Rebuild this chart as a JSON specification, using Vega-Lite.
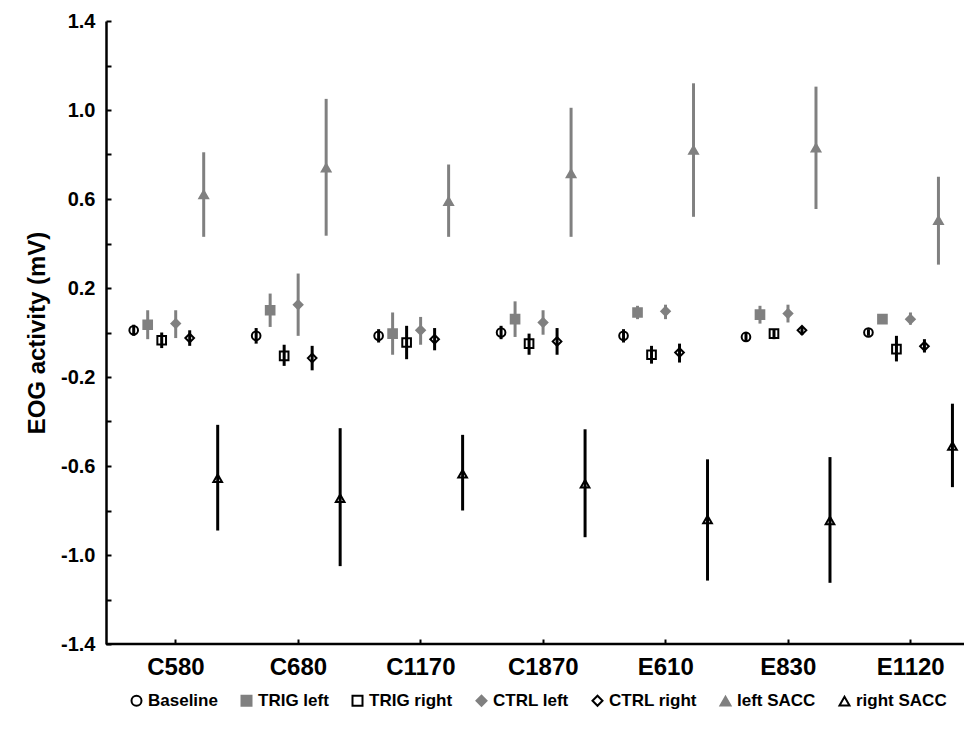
{
  "$schema": "https://vega.github.io/schema/vega-lite/v6.json",
  "width": 858,
  "height": 623,
  "autosize": {"type": "none"},
  "padding": {"left": 106, "top": 21, "right": 2, "bottom": 92},
  "background": "white",
  "config": {
    "font": "Liberation Sans",
    "view": {"stroke": null},
    "axis": {"grid": false, "domainColor": "black", "tickColor": "black", "labelColor": "black", "titleColor": "black", "labelFontWeight": "bold", "titleFontWeight": "bold"}
  },
  "datasets": {
    "eog": [
      {"cat": "C580", "series": "Baseline", "mean": 0.01, "lo": -0.015, "hi": 0.035},
      {"cat": "C580", "series": "TRIG left", "mean": 0.035, "lo": -0.03, "hi": 0.1},
      {"cat": "C580", "series": "TRIG right", "mean": -0.035, "lo": -0.07, "hi": 0.0},
      {"cat": "C580", "series": "CTRL left", "mean": 0.04, "lo": -0.025, "hi": 0.1},
      {"cat": "C580", "series": "CTRL right", "mean": -0.025, "lo": -0.06, "hi": 0.01},
      {"cat": "C580", "series": "left SACC", "mean": 0.62, "lo": 0.43, "hi": 0.81},
      {"cat": "C580", "series": "right SACC", "mean": -0.655, "lo": -0.89, "hi": -0.415},
      {"cat": "C680", "series": "Baseline", "mean": -0.015, "lo": -0.05, "hi": 0.02},
      {"cat": "C680", "series": "TRIG left", "mean": 0.1, "lo": 0.025, "hi": 0.175},
      {"cat": "C680", "series": "TRIG right", "mean": -0.105, "lo": -0.15, "hi": -0.055},
      {"cat": "C680", "series": "CTRL left", "mean": 0.125, "lo": -0.015, "hi": 0.265},
      {"cat": "C680", "series": "CTRL right", "mean": -0.115, "lo": -0.17, "hi": -0.06},
      {"cat": "C680", "series": "left SACC", "mean": 0.74, "lo": 0.435, "hi": 1.05},
      {"cat": "C680", "series": "right SACC", "mean": -0.745, "lo": -1.05, "hi": -0.43},
      {"cat": "C1170", "series": "Baseline", "mean": -0.015, "lo": -0.045, "hi": 0.015},
      {"cat": "C1170", "series": "TRIG left", "mean": -0.005, "lo": -0.1, "hi": 0.09},
      {"cat": "C1170", "series": "TRIG right", "mean": -0.045, "lo": -0.12, "hi": 0.03},
      {"cat": "C1170", "series": "CTRL left", "mean": 0.01, "lo": -0.055, "hi": 0.07},
      {"cat": "C1170", "series": "CTRL right", "mean": -0.03, "lo": -0.08, "hi": 0.02},
      {"cat": "C1170", "series": "left SACC", "mean": 0.59, "lo": 0.43, "hi": 0.755},
      {"cat": "C1170", "series": "right SACC", "mean": -0.635, "lo": -0.8, "hi": -0.46},
      {"cat": "C1870", "series": "Baseline", "mean": 0.0, "lo": -0.03, "hi": 0.03},
      {"cat": "C1870", "series": "TRIG left", "mean": 0.06, "lo": -0.02, "hi": 0.14},
      {"cat": "C1870", "series": "TRIG right", "mean": -0.05, "lo": -0.1, "hi": -0.005},
      {"cat": "C1870", "series": "CTRL left", "mean": 0.045, "lo": -0.01, "hi": 0.1},
      {"cat": "C1870", "series": "CTRL right", "mean": -0.04, "lo": -0.1, "hi": 0.02},
      {"cat": "C1870", "series": "left SACC", "mean": 0.715, "lo": 0.43, "hi": 1.01},
      {"cat": "C1870", "series": "right SACC", "mean": -0.68, "lo": -0.92, "hi": -0.435},
      {"cat": "E610", "series": "Baseline", "mean": -0.015, "lo": -0.045, "hi": 0.015},
      {"cat": "E610", "series": "TRIG left", "mean": 0.09, "lo": 0.06, "hi": 0.12},
      {"cat": "E610", "series": "TRIG right", "mean": -0.1, "lo": -0.14, "hi": -0.06},
      {"cat": "E610", "series": "CTRL left", "mean": 0.095, "lo": 0.06, "hi": 0.125},
      {"cat": "E610", "series": "CTRL right", "mean": -0.09, "lo": -0.135, "hi": -0.05},
      {"cat": "E610", "series": "left SACC", "mean": 0.82, "lo": 0.52, "hi": 1.12},
      {"cat": "E610", "series": "right SACC", "mean": -0.84, "lo": -1.115, "hi": -0.57},
      {"cat": "E830", "series": "Baseline", "mean": -0.02, "lo": -0.04, "hi": 0.0},
      {"cat": "E830", "series": "TRIG left", "mean": 0.08, "lo": 0.04, "hi": 0.12},
      {"cat": "E830", "series": "TRIG right", "mean": -0.005, "lo": -0.03, "hi": 0.015},
      {"cat": "E830", "series": "CTRL left", "mean": 0.085, "lo": 0.045, "hi": 0.125},
      {"cat": "E830", "series": "CTRL right", "mean": 0.01, "lo": -0.01, "hi": 0.025},
      {"cat": "E830", "series": "left SACC", "mean": 0.83, "lo": 0.555, "hi": 1.105},
      {"cat": "E830", "series": "right SACC", "mean": -0.845, "lo": -1.125, "hi": -0.56},
      {"cat": "E1120", "series": "Baseline", "mean": 0.0, "lo": -0.015, "hi": 0.015},
      {"cat": "E1120", "series": "TRIG left", "mean": 0.06, "lo": 0.04, "hi": 0.08},
      {"cat": "E1120", "series": "TRIG right", "mean": -0.075, "lo": -0.13, "hi": -0.015},
      {"cat": "E1120", "series": "CTRL left", "mean": 0.06, "lo": 0.035, "hi": 0.09},
      {"cat": "E1120", "series": "CTRL right", "mean": -0.062, "lo": -0.09, "hi": -0.03},
      {"cat": "E1120", "series": "left SACC", "mean": 0.505, "lo": 0.305, "hi": 0.7},
      {"cat": "E1120", "series": "right SACC", "mean": -0.51, "lo": -0.695, "hi": -0.32}
    ],
    "baseline": [{"value": -1.4}]
  },
  "layer": [
    {
      "data": {"name": "baseline"},
      "mark": {"type": "rule", "stroke": "black", "strokeWidth": 2.5},
      "encoding": {
        "y": {"field": "value", "type": "quantitative", "scale": {"domain": [-1.4, 1.4], "nice": false, "zero": false}}
      }
    },
    {
      "data": {"name": "eog"},
      "mark": {"type": "point", "strokeWidth": 2, "opacity": 1, "size": 75},
      "encoding": {
        "x": {
          "field": "cat", "type": "nominal", "sort": null,
          "scale": {"type": "band", "range": [8.7, 865.9], "paddingInner": 0, "paddingOuter": 0},
          "axis": {"title": null, "domain": false, "tickSize": -5, "tickWidth": 2, "labelPadding": 16, "labelFontSize": 24, "labelAngle": 0}
        },
        "xOffset": {
          "field": "series", "type": "nominal", "sort": null,
          "scale": {"type": "point", "padding": 0, "range": [19, 103], "domain": ["Baseline", "TRIG left", "TRIG right", "CTRL left", "CTRL right", "left SACC", "right SACC"]}
        },
        "y": {
          "field": "mean", "type": "quantitative",
          "scale": {"domain": [-1.4, 1.4], "nice": false, "zero": false},
          "axis": {
            "title": "EOG activity (mV)", "titleFontSize": 24, "titlePadding": 11,
            "values": [-1.4, -1.2, -1.0, -0.8, -0.6, -0.4, -0.2, 0, 0.2, 0.4, 0.6, 0.8, 1.0, 1.2, 1.4],
            "labelExpr": "abs(round(datum.value*10)) % 4 == 2 ? replace(format(datum.value, '.1f'), '\u2212', '-') : ''",
            "labelFontSize": 20, "labelPadding": 16, "tickSize": -5, "tickWidth": 2, "domainWidth": 2.5
          }
        },
        "shape": {
          "field": "series", "type": "nominal", "sort": null,
          "scale": {"domain": ["Baseline", "TRIG left", "TRIG right", "CTRL left", "CTRL right", "left SACC", "right SACC"],
                    "range": ["circle", "square", "square", "diamond", "diamond", "triangle-up", "triangle-up"]},
          "legend": {"title": null}
        },
        "fill": {
          "field": "series", "type": "nominal", "sort": null,
          "scale": {"domain": ["Baseline", "TRIG left", "TRIG right", "CTRL left", "CTRL right", "left SACC", "right SACC"],
                    "range": ["white", "#808080", "white", "#808080", "white", "#808080", "white"]},
          "legend": {"title": null}
        },
        "stroke": {
          "field": "series", "type": "nominal", "sort": null,
          "scale": {"domain": ["Baseline", "TRIG left", "TRIG right", "CTRL left", "CTRL right", "left SACC", "right SACC"],
                    "range": ["black", "#808080", "black", "#808080", "black", "#808080", "black"]},
          "legend": {
            "title": null, "orient": "none", "direction": "horizontal", "legendX": 22, "legendY": 671,
            "labelFontSize": 17, "labelFontWeight": "bold", "labelColor": "black",
            "symbolSize": 100, "symbolStrokeWidth": 2, "columnPadding": 19, "labelOffset": 3
          }
        }
      }
    },
    {
      "data": {"name": "eog"},
      "mark": {"type": "rule", "strokeWidth": 3},
      "encoding": {
        "x": {"field": "cat", "type": "nominal", "sort": null},
        "xOffset": {"field": "series", "type": "nominal", "sort": null,
          "scale": {"type": "point", "padding": 0, "range": [19, 103], "domain": ["Baseline", "TRIG left", "TRIG right", "CTRL left", "CTRL right", "left SACC", "right SACC"]}},
        "y": {"field": "lo", "type": "quantitative"},
        "y2": {"field": "hi"},
        "color": {
          "field": "series", "type": "nominal", "sort": null,
          "scale": {"domain": ["Baseline", "TRIG left", "TRIG right", "CTRL left", "CTRL right", "left SACC", "right SACC"],
                    "range": ["black", "#808080", "black", "#808080", "black", "#808080", "black"]},
          "legend": null
        }
      }
    }
  ]
}
